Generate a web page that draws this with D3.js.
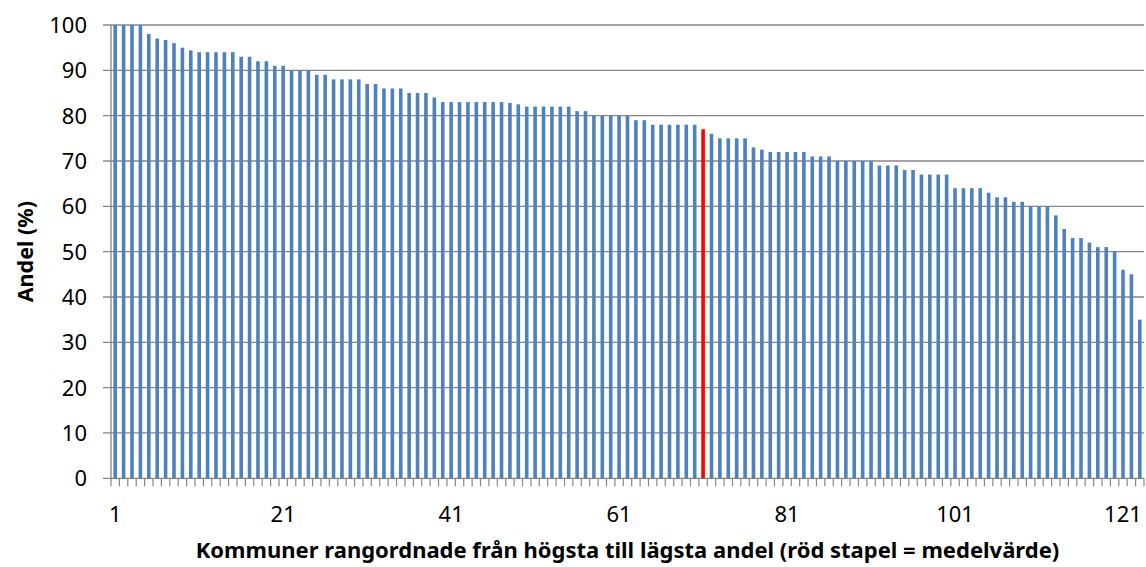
<!DOCTYPE html>
<html>
<head>
<meta charset="utf-8">
<script src="https://cdn.jsdelivr.net/npm/d3@7"></script>
<style>
    body { margin: 0; background: #ffffff; }
    #chart text { font-family: "Noto Sans", "Open Sans", sans-serif; fill: #000000; }
</style>
</head>
<body>
<div id="chart"></div>
<script>
// Share per municipality, sorted from highest to lowest
const shares = [
    100, 100, 100, 100, 98, 97, 96.7, 96, 95, 94.4,
    94, 94, 94, 94, 94, 93, 93, 92, 92, 91,
    91, 90, 90, 90, 89, 89, 88, 88, 88, 88,
    87, 87, 86, 86, 86, 85, 85, 85, 84, 83,
    83, 83, 83, 83, 83, 83, 83, 82.8, 82.5, 82,
    82, 82, 82, 82, 82, 81, 81, 80, 80, 80,
    80, 80, 79, 79, 78, 78, 78, 78, 78, 78,
    77, 76, 75, 75, 75, 75, 73, 72.5, 72, 72,
    72, 72, 72, 71, 71, 71, 70, 70, 70, 70,
    70, 69, 69, 69, 68, 68, 67, 67, 67, 67,
    64, 64, 64, 64, 63, 62, 62, 61, 61, 60,
    60, 60, 58, 55, 53, 53, 52, 51, 51, 50,
    46, 45, 35
];
// Rank of the bar that shows the mean value (drawn red)
const meanRank = 71;
const xTickLabels = [1, 21, 41, 61, 81, 101, 121];
const yTickValues = [0, 10, 20, 30, 40, 50, 60, 70, 80, 90, 100];
const xTitle = "Kommuner rangordnade från högsta till lägsta andel (röd stapel = medelvärde)";
const yTitle = "Andel (%)";

class RankChart {
    constructor(values) {
        this.values = values;
        this.ranks = values.map(function (d, i) { return i + 1; });
        this.width = 1146;
        this.height = 567;
        this.plot = { left: 111, right: 1144, top: 25, bottom: 478.3 };
        this.blue = "#4f81bd";
        this.red = "#ff0000";
        this.gridColor = "#868686";
    }

    create_scales() {
        var padInner = 0.57;
        this.x = d3.scaleBand()
            .domain(this.ranks)
            .range([this.plot.left, this.plot.right])
            .paddingInner(padInner)
            .paddingOuter(padInner / 2);
        this.y = d3.scaleLinear()
            .domain([0, 100])
            .range([this.plot.bottom, this.plot.top]);
    }

    create_y_axis(svg) {
        var y = this.y;
        var grid = svg.append("g");

        // gridlines plus the small outward tick on the left
        grid.selectAll("line")
            .data(yTickValues)
            .enter()
            .append("line")
            .attr("x1", this.plot.left - 8)
            .attr("x2", this.plot.right)
            .attr("y1", function (d) { return y(d); })
            .attr("y2", function (d) { return y(d); })
            .style("stroke", this.gridColor)
            .style("stroke-width", 1.3);

        grid.selectAll("text")
            .data(yTickValues)
            .enter()
            .append("text")
            .attr("x", 87)
            .attr("y", function (d) { return y(d); })
            .attr("dy", "0.36em")
            .attr("text-anchor", "end")
            .style("font-size", "22px")
            .text(function (d) { return d; });

        svg.append("line")
            .attr("x1", this.plot.left)
            .attr("x2", this.plot.left)
            .attr("y1", this.plot.top)
            .attr("y2", this.plot.bottom)
            .style("stroke", this.gridColor)
            .style("stroke-width", 1.3);

        svg.append("text")
            .attr("transform", "translate(25," + ((this.plot.top + this.plot.bottom) / 2) + ") rotate(-90)")
            .attr("dy", "0.35em")
            .attr("text-anchor", "middle")
            .style("font-size", "21.5px")
            .style("font-weight", "bold")
            .text(yTitle);
    }

    create_x_axis(svg) {
        var x = this.x;
        var half = x.step() / 2;
        var centre = function (d) { return x(d) + x.bandwidth() / 2; };
        var g = svg.append("g");

        // one tick on each category border
        var borders = this.ranks.map(function (r) { return centre(r) - half; });
        borders.push(centre(this.ranks[this.ranks.length - 1]) + half);

        g.selectAll("line.tick")
            .data(borders)
            .enter()
            .append("line")
            .attr("class", "tick")
            .attr("x1", function (d) { return d; })
            .attr("x2", function (d) { return d; })
            .attr("y1", this.plot.bottom)
            .attr("y2", this.plot.bottom + 8)
            .style("stroke", this.gridColor)
            .style("stroke-width", 1.2);

        g.selectAll("text")
            .data(xTickLabels)
            .enter()
            .append("text")
            .attr("x", centre)
            .attr("y", 522)
            .attr("text-anchor", "middle")
            .style("font-size", "22px")
            .text(function (d) { return d; });

        svg.append("text")
            .attr("x", (this.plot.left + this.plot.right) / 2)
            .attr("y", 558)
            .attr("text-anchor", "middle")
            .style("font-size", "22px")
            .style("font-weight", "bold")
            .text(xTitle);
    }

    render() {
        var svg = d3.select("#chart")
            .append("svg")
            .attr("width", this.width)
            .attr("height", this.height);

        svg.append("rect")
            .attr("width", this.width)
            .attr("height", this.height)
            .style("fill", "#ffffff");

        this.create_scales();
        this.create_y_axis(svg);

        var x = this.x, y = this.y, self = this;
        var ranks = this.ranks;

        svg.append("g")
            .selectAll("rect")
            .data(this.values)
            .enter()
            .append("rect")
            .attr("x", function (d, i) { return x(ranks[i]); })
            .attr("y", function (d) { return y(d); })
            .attr("width", x.bandwidth())
            .attr("height", function (d) { return y(0) - y(d); })
            .style("fill", function (d, i) { return ranks[i] === meanRank ? self.red : self.blue; });

        this.create_x_axis(svg);
    }
}

new RankChart(shares).render();
</script>
</body>
</html>
